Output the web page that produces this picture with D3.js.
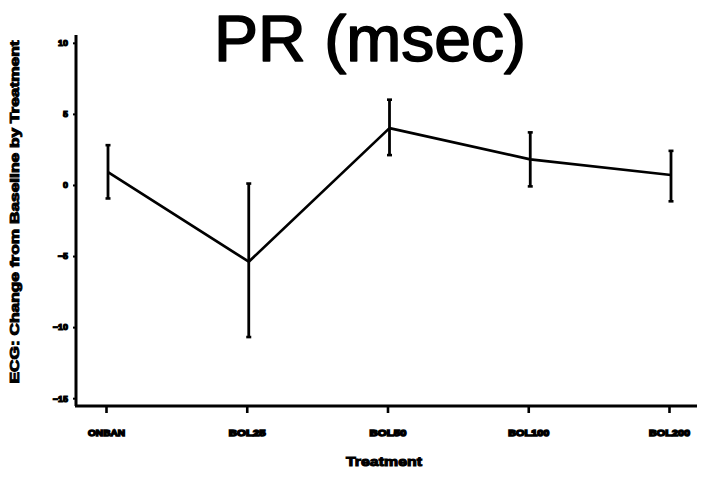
<!DOCTYPE html>
<html>
<head>
<meta charset="utf-8">
<script src="https://cdn.jsdelivr.net/npm/d3@7"></script>
<style>
    body { margin: 0; background: #fff; }
    #graph { width: 702px; height: 479px; }
    text { font-family: "Liberation Sans", Arial, sans-serif; fill: #000; }
</style>
</head>
<body>
<div id="graph"></div>
<script>
var treatments = ['ONBAN', 'BOL25', 'BOL50', 'BOL100', 'BOL200'];
var means = [0.9, -5.4, 4.0, 1.8, 0.7];
var upper = [2.8, 0.1, 6.0, 3.7, 2.4];
var lower = [-0.95, -10.7, 2.1, -0.1, -1.15];
var yTicks = [10, 5, 0, -5, -10, -15];

function createChart() {
    var width = 702,
        height = 479;

    var svg = d3.select('#graph')
        .append('svg')
            .attr('width', width)
            .attr('height', height);

    var x = d3.scalePoint()
        .domain(treatments)
        .range([108, 671]);

    var y = d3.scaleLinear()
        .domain([-15.55, 10.55])
        .range([406, 35]);

    // axes -------------------------------------------------------------
    svg.append('line')
        .attr('x1', 76).attr('x2', 76)
        .attr('y1', y(10.55)).attr('y2', y(-15.55))
        .attr('stroke', '#000').attr('stroke-width', 3);
    svg.append('line')
        .attr('x1', 75).attr('x2', 697)
        .attr('y1', y(-15.55)).attr('y2', y(-15.55))
        .attr('stroke', '#000').attr('stroke-width', 3);

    var yAxis = svg.append('g')
        .attr('transform', 'translate(76,0)')
        .call(d3.axisLeft(y).tickValues(yTicks).tickSize(3).tickPadding(5));
    yAxis.select('.domain').remove();
    yAxis.selectAll('.tick line').attr('stroke-width', 2);
    yAxis.selectAll('.tick text')
        .style('font-size', '9px')
        .style('font-weight', 'bold')
        .attr('stroke', '#000')
        .attr('stroke-width', 1.2);

    var xAxis = svg.append('g')
        .attr('transform', 'translate(-2,' + y(-15.55) + ')')
        .call(d3.axisBottom(x).tickSize(7).tickPadding(17));
    xAxis.select('.domain').remove();
    xAxis.selectAll('.tick line').attr('stroke-width', 2.6);
    xAxis.selectAll('.tick text')
        .style('font-size', '9px')
        .style('font-weight', 'bold')
        .attr('stroke', '#000')
        .attr('stroke-width', 1.4)
        .attr('textLength', function(d) { return d.length > 5 ? 41 : 37; })
        .attr('lengthAdjust', 'spacingAndGlyphs');

    // error bars -------------------------------------------------------
    var bars = svg.append('g');
    bars.selectAll('line.bar')
        .data(treatments).enter().append('line')
        .attr('class', 'bar')
        .attr('x1', function(d) { return x(d); })
        .attr('x2', function(d) { return x(d); })
        .attr('y1', function(d, i) { return y(upper[i]); })
        .attr('y2', function(d, i) { return y(lower[i]); })
        .attr('stroke', '#000').attr('stroke-width', 2.8);
    bars.selectAll('line.capTop')
        .data(treatments).enter().append('line')
        .attr('class', 'capTop')
        .attr('x1', function(d) { return x(d) - 2.5; })
        .attr('x2', function(d) { return x(d) + 2.5; })
        .attr('y1', function(d, i) { return y(upper[i]); })
        .attr('y2', function(d, i) { return y(upper[i]); })
        .attr('stroke', '#000').attr('stroke-width', 2.6);
    bars.selectAll('line.capBot')
        .data(treatments).enter().append('line')
        .attr('class', 'capBot')
        .attr('x1', function(d) { return x(d) - 2.5; })
        .attr('x2', function(d) { return x(d) + 2.5; })
        .attr('y1', function(d, i) { return y(lower[i]); })
        .attr('y2', function(d, i) { return y(lower[i]); })
        .attr('stroke', '#000').attr('stroke-width', 2.6);

    // mean line --------------------------------------------------------
    var line = d3.line()
        .x(function(d, i) { return x(treatments[i]); })
        .y(function(d) { return y(d); });
    svg.append('path')
        .datum(means)
        .attr('d', line)
        .attr('fill', 'none')
        .attr('stroke', '#000')
        .attr('stroke-width', 2.7)
        .attr('stroke-linejoin', 'round');

    // titles -----------------------------------------------------------
    svg.append('text')
        .attr('x', 370)
        .attr('y', 61)
        .attr('text-anchor', 'middle')
        .style('font-size', '64px')
        .attr('stroke', '#000')
        .attr('stroke-width', 1.6)
        .attr('stroke-linejoin', 'round')
        .attr('textLength', 312)
        .attr('lengthAdjust', 'spacingAndGlyphs')
        .text('PR (msec)');

    svg.append('text')
        .attr('x', 384)
        .attr('y', 466)
        .attr('text-anchor', 'middle')
        .style('font-size', '12px')
        .style('font-weight', 'bold')
        .attr('stroke', '#000')
        .attr('stroke-width', 1)
        .attr('textLength', 76)
        .attr('lengthAdjust', 'spacingAndGlyphs')
        .text('Treatment');

    svg.append('text')
        .attr('transform', 'translate(19,212) rotate(-90)')
        .attr('text-anchor', 'middle')
        .style('font-size', '12px')
        .style('font-weight', 'bold')
        .attr('stroke', '#000')
        .attr('stroke-width', 0.9)
        .attr('textLength', 343)
        .attr('lengthAdjust', 'spacingAndGlyphs')
        .text('ECG: Change from Baseline by Treatment');
}

createChart();
</script>
</body>
</html>
